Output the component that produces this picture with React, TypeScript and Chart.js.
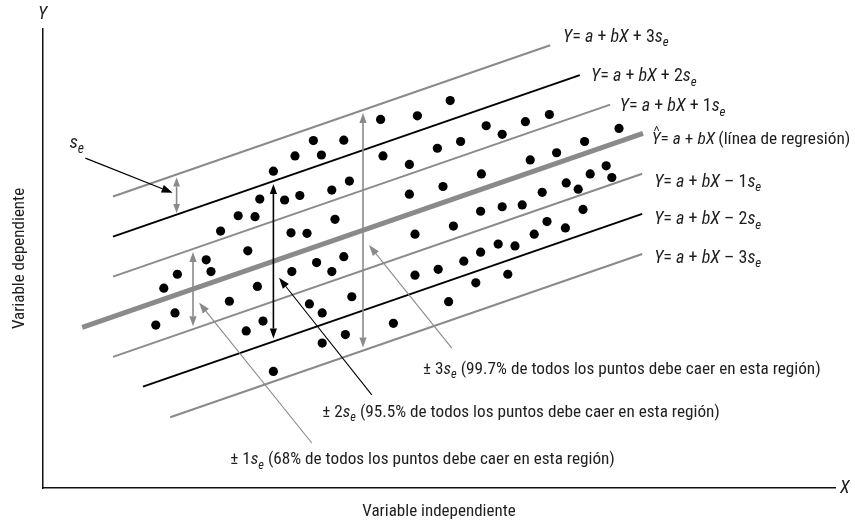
import React, { useEffect, useRef } from 'react';
import { Chart, registerables } from 'chart.js';

Chart.register(...registerables);

// ---- data ----
const pointX = [
  14.1, 15.1, 16.5, 16.8, 20.4, 21.0, 22.2, 23.3, 24.4, 25.4,
  25.6, 26.5, 26.8, 27.1, 27.5, 28.8, 28.8, 30.2, 31.0, 31.1,
  31.5, 32.1, 33.0, 33.3, 33.8, 34.2, 34.8, 34.9, 34.9, 36.1,
  36.1, 36.5, 37.6, 37.6, 37.8, 38.3, 38.6, 42.2, 42.5, 43.8,
  45.8, 45.8, 46.5, 46.5, 46.8, 49.3, 49.4, 50.0, 50.7, 50.9,
  51.3, 52.2, 52.6, 54.1, 54.7, 54.7, 54.8, 55.4, 56.9, 57.4,
  57.4, 58.1, 59.0, 59.9, 60.3, 60.9, 61.4, 62.4, 63.0, 63.3,
  64.2, 65.3, 65.4, 66.9, 67.5, 67.7, 68.4, 70.4, 71.1, 72.0,
];
const pointY = [
  36.2, 44.4, 38.9, 47.5, 50.7, 48.1, 57.1, 41.5, 60.5, 34.9,
  52.7, 60.3, 44.8, 64.2, 37.1, 70.4, 25.9, 64.0, 56.7, 48.1,
  73.8, 65.0, 56.6, 40.9, 77.2, 50.1, 74.0, 38.9, 32.2, 66.2,
  48.1, 59.7, 77.3, 51.4, 34.1, 68.2, 42.5, 81.9, 73.8, 36.6,
  65.3, 71.9, 56.4, 47.3, 82.7, 75.5, 48.6, 67.0, 41.4, 86.1,
  58.2, 77.0, 50.4, 45.6, 52.4, 61.5, 69.8, 80.5, 54.2, 78.6,
  62.5, 47.5, 53.8, 62.9, 81.4, 72.9, 56.4, 65.7, 59.2, 83.0,
  74.5, 57.8, 67.8, 66.4, 61.9, 77.0, 69.8, 71.6, 69.0, 79.9,
];

const intercept = 32.67; // a
const slope = 0.615; // b
const se = 8.91; // standard error of estimate
const bandMultiples = [3, 2, 1, 0, -1, -2, -3];
const bandStartX = [8.75, 8.75, 8.75, 4.9, 8.75, 12.5, 15.9];
const bandEndX = [63.4, 67.1, 70.9, 75.0, 74.9, 74.9, 74.9];
const coverage = ['68%', '95.5%', '99.7%']; // for ±1, ±2, ±3 se

const xTitle = 'Variable independiente';
const yTitle = 'Variable dependiente';

// ---- styling ----
const FONT = '"Liberation Sans Narrow", "Roboto Condensed", "Liberation Sans", Arial, sans-serif';
const GRAY = '#8a8a8a';
const BLACK = '#000000';
const TEXT = '#1e1e1e';

const bandColor = (k: number) => (k === 0 ? GRAY : Math.abs(k) === 2 ? BLACK : GRAY);
const bandWidth = (k: number) => (k === 0 ? 5 : 2);
const lineY = (x: number, k: number) => intercept + slope * x + k * se;

type Seg = { t: string; i?: boolean; sub?: boolean; hat?: boolean };

function bandLabel(k: number): Seg[] {
  if (k === 0) {
    return [
      { t: 'Y', i: true, hat: true },
      { t: '= ' },
      { t: 'a', i: true },
      { t: ' + ' },
      { t: 'bX', i: true },
      { t: '\u2009(línea de regresión)' },
    ];
  }
  return [
    { t: 'Y', i: true },
    { t: '= ' },
    { t: 'a', i: true },
    { t: ' + ' },
    { t: 'bX', i: true },
    { t: (k > 0 ? ' + ' : ' \u2013 ') + Math.abs(k) },
    { t: 's', i: true },
    { t: 'e', i: true, sub: true },
  ];
}

function coverageLabel(k: number): Seg[] {
  return [
    { t: '\u00b1 ' + k },
    { t: 's', i: true },
    { t: 'e', i: true, sub: true },
    { t: ' (' + coverage[k - 1] + ' de todos los puntos debe caer en esta región)' },
  ];
}

function drawRich(ctx: CanvasRenderingContext2D, x: number, y: number, segs: Seg[], size: number) {
  let cx = x;
  ctx.textBaseline = 'middle';
  ctx.textAlign = 'left';
  ctx.fillStyle = TEXT;
  ctx.strokeStyle = TEXT;
  for (const s of segs) {
    const sz = s.sub ? size * 0.72 : size;
    ctx.font = `${s.i ? 'italic ' : ''}${sz}px ${FONT}`;
    const dy = s.sub ? size * 0.32 : 0;
    ctx.fillText(s.t, cx, y + dy);
    const w = ctx.measureText(s.t).width;
    if (s.hat) {
      ctx.lineWidth = 1;
      ctx.beginPath();
      ctx.moveTo(cx + w * 0.3, y - size * 0.5);
      ctx.lineTo(cx + w * 0.55, y - size * 0.78);
      ctx.lineTo(cx + w * 0.8, y - size * 0.5);
      ctx.stroke();
    }
    cx += w;
  }
}

function arrow(
  ctx: CanvasRenderingContext2D,
  x1: number, y1: number, x2: number, y2: number,
  color: string, width: number, both: boolean, len = 10, half = 3.6,
) {
  const ang = Math.atan2(y2 - y1, x2 - x1);
  const c = Math.cos(ang), s = Math.sin(ang);
  const sx = both ? x1 + len * c : x1;
  const sy = both ? y1 + len * s : y1;
  const ex = x2 - len * c, ey = y2 - len * s;
  ctx.strokeStyle = color;
  ctx.fillStyle = color;
  ctx.lineWidth = width;
  ctx.beginPath();
  ctx.moveTo(sx, sy);
  ctx.lineTo(ex, ey);
  ctx.stroke();
  const head = (tx: number, ty: number, dc: number, ds: number) => {
    ctx.beginPath();
    ctx.moveTo(tx, ty);
    ctx.lineTo(tx - len * dc + half * ds, ty - len * ds - half * dc);
    ctx.lineTo(tx - len * dc - half * ds, ty - len * ds + half * dc);
    ctx.closePath();
    ctx.fill();
  };
  head(x2, y2, c, s);
  if (both) head(x1, y1, -c, -s);
}

// annotation placement (data units)
const bandLabelPos = [
  [65.0, 100.2], [68.5, 91.4], [72.1, 84.7], [76.1, 77.4], [76.4, 68.0], [76.4, 59.6], [76.4, 51.1],
];
const bandLabelSize = [18, 18, 18, 17.3, 18, 18, 18];
const spreadArrowX = [18.75, 28.8, 40.0]; // ±1, ±2, ±3
const pointerFrom = [[33.6, 10.0], [41.1, 20.7], [51.1, 31.1]];
const pointerTo = [[19.5, 41.2], [29.5, 46.7], [40.75, 54.0]];
const coverageTextPos = [[23.4, 6.2], [34.9, 16.7], [47.5, 26.4]];

const annotationPlugin = {
  id: 'annotations',
  afterDatasetsDraw(chart: any) {
    const ctx: CanvasRenderingContext2D = chart.ctx;
    const xs = chart.scales.x, ys = chart.scales.y;
    const px = (v: number) => xs.getPixelForValue(v);
    const py = (v: number) => ys.getPixelForValue(v);
    const inset = 3;
    ctx.save();

    // s_e small arrow between +3 and +2 lines
    const seX = 16.7;
    arrow(ctx, px(seX), py(lineY(seX, 3)) + inset, px(seX), py(lineY(seX, 2)) - 1.5, GRAY, 1.6, true, 9, 3.4);
    // s_e label + pointer
    drawRich(ctx, px(3.3), py(76.6), [{ t: 's', i: true }, { t: 'e', i: true, sub: true }], 19);
    arrow(ctx, px(5.3), py(73.3), px(16.2), py(65.6), BLACK, 1.3, false, 11, 4);

    // spread arrows ±1, ±2, ±3
    for (let k = 1; k <= 3; k++) {
      const x = spreadArrowX[k - 1];
      const col = k === 2 ? BLACK : GRAY;
      arrow(ctx, px(x), py(lineY(x, k)) + inset, px(x), py(lineY(x, -k)) - inset, col, 1.6, true, 10, 3.6);
      const f = pointerFrom[k - 1], t = pointerTo[k - 1];
      arrow(ctx, px(f[0]), py(f[1]), px(t[0]), py(t[1]), col, 1.1, false, 11, 3.8);
      const tp = coverageTextPos[k - 1];
      drawRich(ctx, px(tp[0]), py(tp[1]), coverageLabel(k), 17.2);
    }

    // band labels
    bandMultiples.forEach((k, i) => {
      const p = bandLabelPos[i];
      drawRich(ctx, px(p[0]), py(p[1]), bandLabel(k), bandLabelSize[i]);
    });

    // axis letters
    const area = chart.chartArea;
    drawRich(ctx, area.left - 5, area.top - 15, [{ t: 'Y', i: true }], 18);
    drawRich(ctx, area.right + 5, area.bottom, [{ t: 'X', i: true }], 18);
    ctx.restore();
  },
};

export default function App() {
  const ref = useRef<HTMLCanvasElement>(null);
  useEffect(() => {
    document.body.style.margin = '0';
    const bandSets = bandMultiples.map((k, i) => ({
      type: 'line' as const,
      data: [
        { x: bandStartX[i], y: lineY(bandStartX[i], k) },
        { x: bandEndX[i], y: lineY(bandEndX[i], k) },
      ],
      borderColor: bandColor(k),
      borderWidth: bandWidth(k),
      borderCapStyle: 'butt' as const,
      pointRadius: 0,
      showLine: true,
      fill: false,
      order: 1,
    }));
    const chart = new Chart(ref.current!, {
      type: 'scatter',
      data: {
        datasets: [
          {
            data: pointX.map((x, i) => ({ x, y: pointY[i] })),
            backgroundColor: BLACK,
            borderWidth: 0,
            pointRadius: 4.6,
            order: 0,
          } as any,
          ...bandSets,
        ],
      },
      options: {
        responsive: false,
        animation: false,
        layout: { padding: { left: 0, top: 29, right: 20, bottom: 0 } },
        plugins: { legend: { display: false }, tooltip: { enabled: false } },
        scales: {
          x: {
            type: 'linear',
            min: 0,
            max: 99,
            grid: { display: false, drawTicks: false },
            ticks: { display: false },
            border: { display: true, color: '#111', width: 1.5 },
            title: {
              display: true,
              text: xTitle,
              color: TEXT,
              font: { family: FONT, size: 17 },
              padding: { top: 13.8, bottom: 0.8 },
            },
          },
          y: {
            type: 'linear',
            min: 0,
            max: 102,
            grid: { display: false, drawTicks: false },
            ticks: { display: false },
            border: { display: true, color: '#111', width: 1.5 },
            title: {
              display: true,
              text: yTitle,
              color: TEXT,
              font: { family: FONT, size: 17 },
              padding: { top: 9.8, bottom: 12.8 },
            },
          },
        },
      },
      plugins: [annotationPlugin],
    });
    return () => chart.destroy();
  }, []);
  return (
    <div style={{ position: 'absolute', left: 0, top: 0, width: 855, height: 523 }}>
      <canvas ref={ref} width={855} height={523} style={{ width: 855, height: 523, display: 'block' }} />
    </div>
  );
}
